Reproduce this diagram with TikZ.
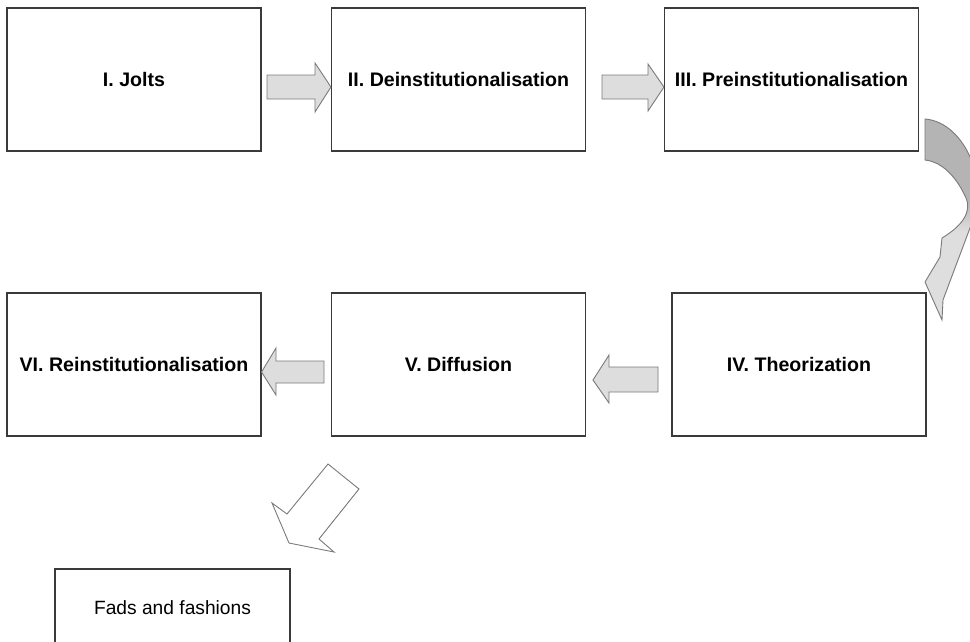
\documentclass[tikz,border=0pt]{standalone}
\usepackage{fontspec}
\setmainfont{Liberation Sans}
\definecolor{boxline}{HTML}{3A3A3A}
\definecolor{arrowfill}{HTML}{DDDDDD}
\definecolor{arrowline}{HTML}{7A7A7A}
\definecolor{curvetop}{HTML}{B4B4B4}
\definecolor{curvebot}{HTML}{DEDEDE}
% darker body, lighter head for the curved arrow
\pgfdeclareverticalshading{curvefill}{100bp}{color(0bp)=(curvebot); color(25bp)=(curvebot);
  color(47bp)=(curvebot); color(55bp)=(curvetop); color(75bp)=(curvetop); color(100bp)=(curvetop)}
\tikzset{
  stage/.style={draw=boxline, line width=1.1pt, fill=white, minimum width=254pt,
    minimum height=143pt, inner sep=0pt, align=center,
    font=\fontsize{19.6}{23}\selectfont\bfseries},
  note/.style={draw=boxline, line width=1.1pt, fill=white, minimum width=235pt,
    minimum height=77pt, inner sep=0pt, font=\fontsize{19.2}{23}\selectfont},
  blockarrow/.style={draw=arrowline, line width=0.9pt, fill=arrowfill, line join=miter},
  hollowarrow/.style={draw=arrowline, line width=0.9pt, fill=white, line join=miter}
}
\begin{document}
\begin{tikzpicture}[x=1pt,y=-1pt]
\useasboundingbox (0,0) rectangle (970,641);
\clip (0,0) rectangle (970,641);

% stage boxes
\node[stage] (s1) at (134,79.5) {I. Jolts};
\node[stage] (s2) at (458.5,79.5) {II. Deinstitutionalisation};
\node[stage] (s3) at (791.5,79.5) {III. Preinstitutionalisation};
\node[stage] (s4) at (799,364.5) {IV. Theorization};
\node[stage] (s5) at (458.5,364.5) {V. Diffusion};
\node[stage] (s6) at (134,364.5) {VI. Reinstitutionalisation};
\node[note] (f) at (172.5,607.5) {Fads and fashions};

% block arrows between the stages
\draw[blockarrow] (267,75) -- (315,75) -- (315,63) -- (s2.west |- 0,87) -- (315,112) -- (315,99) -- (267,99) -- cycle;
\draw[blockarrow] (602,75) -- (648,75) -- (648,64) -- (s3.west |- 0,87) -- (648,111) -- (648,99) -- (602,99) -- cycle;
\draw[blockarrow] (658,367) -- (609,367) -- (609,355) -- (593,380) -- (609,403) -- (609,392) -- (658,392) -- cycle;
\draw[blockarrow] (324,361) -- (276,361) -- (276,348) -- (s6.east |- 0,372) -- (276,395) -- (276,383) -- (324,383) -- cycle;

% curved arrow from III down to IV (runs past the right edge and is cut there)
\draw[draw=arrowline, line width=0.9pt, shading=curvefill, line join=miter]
  (925,119) .. controls (965,122) and (992,185) .. (970,228)
  -- (943,300) -- (942,320) -- (925,282) -- (940,257) -- (942,238)
  .. controls (962,226) and (972,212) .. (966,198)
  .. controls (958,180) and (944,162) .. (925,160) -- cycle;

% hollow arrow from V towards the fads box
\draw[hollowarrow] (328,464) -- (359,489) -- (319,539) -- (334,552) -- (289,543)
  -- (272,503) -- (287,514) -- cycle;
\end{tikzpicture}
\end{document}
